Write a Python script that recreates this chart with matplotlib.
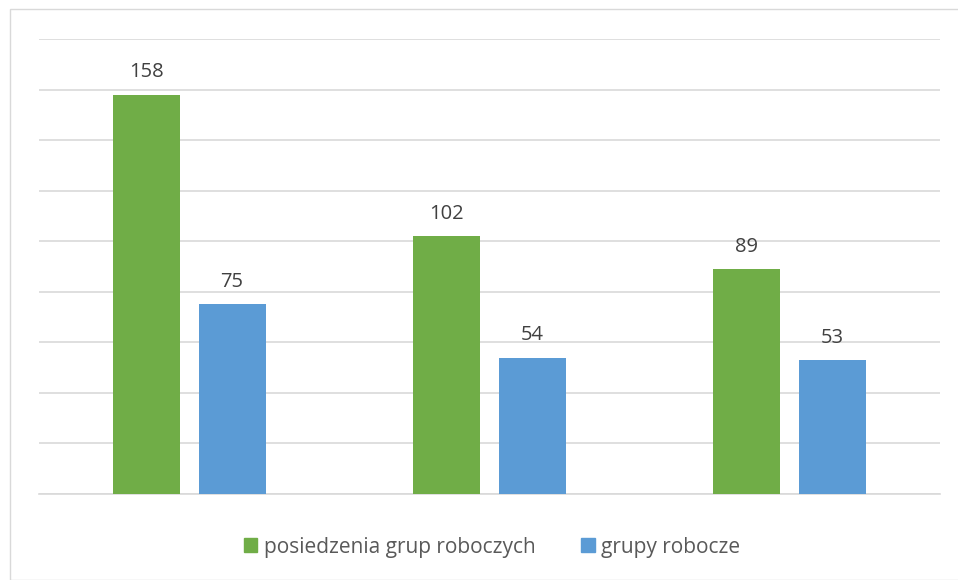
import matplotlib
matplotlib.use("Agg")
import matplotlib.pyplot as plt
from matplotlib.patches import Rectangle, Patch
import numpy as np

categories = ["", "", ""]
series_names = ["posiedzenia grup roboczych", "grupy robocze"]
meetings = [158, 102, 89]
groups = [75, 54, 53]
colors = ["#70AD47", "#5B9BD5"]

plt.rcParams['font.family'] = ['Open Sans', 'DejaVu Sans']
W, H = 958, 580
fig = plt.figure(figsize=(W/100, H/100), dpi=100)

# outer frame
fig.patches.append(Rectangle((10/W, 0.0), (W-10)/W + 0.01, (H-9)/H, transform=fig.transFigure,
                             fill=False, edgecolor="#D9D9D9", linewidth=1.0))

ax = fig.add_axes([39/W, 1-494/H, (940-39)/W, (494-39)/H])
x = np.arange(len(meetings))
w = 0.223
off = 0.143
b1 = ax.bar(x - off, meetings, w, color=colors[0], zorder=3)
b2 = ax.bar(x + off, groups, w, color=colors[1], zorder=3)
for bars, vals in ((b1, meetings), (b2, groups)):
    for r, v in zip(bars, vals):
        ax.annotate(str(v), (r.get_x() + r.get_width()/2, v), xytext=(0, 9),
                    textcoords="offset points", ha="center", va="bottom",
                    fontsize=14.5, color="#404040")

ax.set_xlim(-0.5, 2.5)
ax.set_ylim(0, 180)
ax.set_yticks(np.arange(0, 181, 20))
ax.yaxis.grid(True, color="#D9D9D9", linewidth=1.2, zorder=0)
ax.tick_params(left=False, bottom=False, labelleft=False, labelbottom=False)
ax.set_xticks(x)
for s in ["left", "right", "top"]:
    ax.spines[s].set_visible(False)
ax.spines["bottom"].set_color("#D9D9D9")
ax.spines["bottom"].set_linewidth(1.2)

handles = [Patch(color=c) for c in colors]
fig.legend(handles, series_names, loc="center", bbox_to_anchor=(492/W, 1-547/H),
           ncol=2, frameon=False, fontsize=15, handlelength=0.65, handleheight=0.65,
           handletextpad=0.3, columnspacing=2.2, labelcolor="#595959")

fig.savefig("out.png", dpi=100)
